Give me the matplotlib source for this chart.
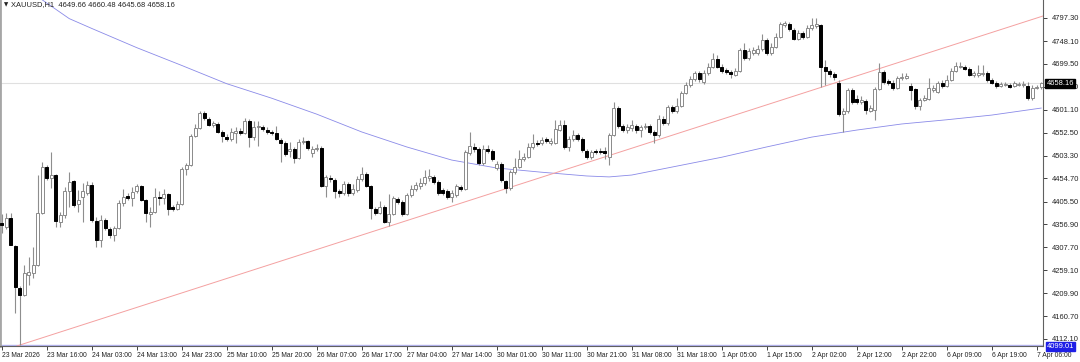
import matplotlib
matplotlib.use("Agg")
import matplotlib.pyplot as plt
from matplotlib.patches import Rectangle

# ---------------- data (XAUUSD H1) ----------------
opens = [4360, 4351, 4370, 4311, 4221, 4206, 4249, 4253, 4270, 4381,
         4479, 4456, 4462, 4362, 4377, 4428, 4449, 4400, 4415, 4424,
         4441, 4364, 4323, 4366, 4347, 4334, 4349, 4402, 4417, 4413,
         4428, 4439, 4409, 4379, 4383, 4415, 4413, 4422, 4394, 4390,
         4400, 4475, 4483, 4545, 4562, 4594, 4582, 4569, 4571, 4554,
         4543, 4539, 4552, 4556, 4552, 4577, 4543, 4565, 4565, 4558,
         4554, 4552, 4537, 4530, 4513, 4518, 4498, 4532, 4535, 4509,
         4518, 4520, 4439, 4456, 4451, 4428, 4424, 4443, 4424, 4430,
         4454, 4464, 4439, 4390, 4381, 4394, 4362, 4379, 4411, 4404,
         4379, 4419, 4432, 4439, 4445, 4456, 4458, 4447, 4430, 4428,
         4415, 4419, 4436, 4432, 4509, 4522, 4518, 4488, 4518, 4513,
         4477, 4486, 4449, 4434, 4468, 4479, 4496, 4501, 4522, 4530,
         4530, 4539, 4530, 4530, 4558, 4569, 4522, 4539, 4548, 4539,
         4513, 4501, 4513, 4513, 4513, 4501, 4548, 4605, 4567, 4558,
         4562, 4567, 4558, 4565, 4567, 4554, 4548, 4582, 4573, 4607,
         4599, 4609, 4637, 4654, 4667, 4680, 4661, 4680, 4693, 4710,
         4693, 4686, 4682, 4676, 4684, 4729, 4712, 4723, 4723, 4731,
         4750, 4723, 4735, 4757, 4782, 4784, 4772, 4752, 4765, 4757,
         4776, 4780, 4782, 4693, 4684, 4678, 4659, 4592, 4599, 4644,
         4624, 4618, 4620, 4599, 4601, 4646, 4682, 4663, 4659, 4648,
         4669, 4669, 4652, 4646, 4609, 4622, 4624, 4644, 4639, 4659,
         4652, 4665, 4684, 4693, 4693, 4688, 4676, 4676, 4678, 4680,
         4665, 4659, 4652, 4654, 4654, 4652, 4654, 4654, 4652, 4627,
         4648, 4649.66]
highs = [4379, 4381, 4381, 4313, 4225, 4270, 4287, 4308, 4462, 4490,
         4483, 4511, 4464, 4383, 4436, 4468, 4451, 4430, 4445, 4449,
         4447, 4372, 4377, 4370, 4351, 4353, 4409, 4432, 4424, 4436,
         4443, 4441, 4411, 4394, 4434, 4428, 4432, 4424, 4398, 4407,
         4479, 4488, 4550, 4571, 4599, 4599, 4586, 4577, 4575, 4558,
         4550, 4562, 4565, 4562, 4584, 4582, 4577, 4577, 4569, 4565,
         4558, 4567, 4541, 4535, 4532, 4522, 4539, 4543, 4537, 4524,
         4528, 4524, 4462, 4462, 4456, 4432, 4449, 4447, 4443, 4460,
         4479, 4468, 4441, 4394, 4407, 4398, 4422, 4417, 4415, 4409,
         4424, 4441, 4447, 4456, 4473, 4475, 4462, 4451, 4434, 4432,
         4430, 4443, 4441, 4515, 4554, 4530, 4522, 4526, 4526, 4518,
         4492, 4490, 4451, 4473, 4498, 4515, 4509, 4530, 4550, 4537,
         4543, 4543, 4541, 4580, 4580, 4580, 4545, 4558, 4552, 4543,
         4518, 4515, 4518, 4520, 4522, 4552, 4618, 4609, 4571, 4571,
         4580, 4571, 4569, 4573, 4571, 4558, 4590, 4588, 4612, 4612,
         4627, 4641, 4661, 4673, 4684, 4684, 4686, 4701, 4723, 4718,
         4699, 4691, 4686, 4691, 4733, 4744, 4733, 4735, 4740, 4763,
         4755, 4744, 4765, 4789, 4791, 4789, 4776, 4772, 4770, 4782,
         4797, 4797, 4784, 4708, 4688, 4682, 4665, 4605, 4648, 4648,
         4633, 4631, 4624, 4612, 4650, 4701, 4686, 4667, 4665, 4673,
         4680, 4680, 4659, 4648, 4627, 4633, 4669, 4654, 4663, 4665,
         4676, 4691, 4703, 4703, 4697, 4693, 4684, 4697, 4697, 4684,
         4669, 4663, 4661, 4661, 4659, 4663, 4661, 4663, 4661, 4654,
         4654, 4660.48]
lows = [4338, 4347, 4313, 4167, 4099.01, 4204, 4227, 4242, 4268, 4379,
        4451, 4434, 4351, 4351, 4370, 4394, 4394, 4383, 4362, 4419,
        4362, 4308, 4308, 4345, 4328, 4321, 4347, 4396, 4409, 4396,
        4424, 4407, 4362, 4351, 4381, 4398, 4400, 4377, 4385, 4387,
        4398, 4462, 4481, 4543, 4560, 4580, 4567, 4565, 4552, 4532,
        4535, 4535, 4530, 4548, 4550, 4522, 4537, 4524, 4556, 4550,
        4548, 4537, 4490, 4503, 4501, 4488, 4496, 4528, 4515, 4501,
        4513, 4436, 4415, 4447, 4413, 4415, 4419, 4417, 4419, 4426,
        4449, 4436, 4368, 4377, 4379, 4360, 4353, 4377, 4400, 4375,
        4377, 4415, 4428, 4432, 4441, 4449, 4443, 4419, 4419, 4411,
        4404, 4415, 4428, 4430, 4505, 4511, 4483, 4483, 4509, 4492,
        4473, 4447, 4424, 4430, 4464, 4477, 4492, 4498, 4518, 4524,
        4526, 4530, 4526, 4528, 4556, 4518, 4513, 4535, 4535, 4511,
        4496, 4496, 4507, 4507, 4496, 4483, 4545, 4562, 4554, 4552,
        4556, 4552, 4543, 4560, 4550, 4530, 4543, 4569, 4569, 4594,
        4594, 4607, 4635, 4650, 4663, 4661, 4656, 4676, 4691, 4691,
        4680, 4678, 4669, 4673, 4682, 4708, 4708, 4718, 4718, 4727,
        4718, 4718, 4733, 4755, 4778, 4770, 4750, 4750, 4752, 4755,
        4772, 4776, 4650, 4654, 4671, 4665, 4588, 4554, 4594, 4614,
        4614, 4614, 4592, 4597, 4580, 4644, 4656, 4654, 4644, 4646,
        4665, 4667, 4622, 4603, 4601, 4620, 4622, 4639, 4637, 4648,
        4650, 4663, 4682, 4691, 4686, 4673, 4671, 4671, 4673, 4661,
        4656, 4648, 4650, 4652, 4648, 4650, 4652, 4650, 4622, 4622,
        4646, 4645.68]
closes = [4355, 4370, 4313, 4223, 4206, 4253, 4255, 4270, 4381, 4479,
          4456, 4462, 4364, 4377, 4428, 4447, 4398, 4409, 4428, 4441,
          4366, 4323, 4366, 4349, 4334, 4349, 4402, 4415, 4413, 4426,
          4439, 4409, 4381, 4383, 4415, 4413, 4422, 4390, 4390, 4400,
          4475, 4483, 4545, 4562, 4594, 4584, 4569, 4573, 4554, 4545,
          4539, 4554, 4556, 4552, 4577, 4543, 4565, 4567, 4560, 4554,
          4552, 4539, 4530, 4507, 4518, 4498, 4532, 4535, 4520, 4518,
          4520, 4439, 4458, 4454, 4428, 4424, 4443, 4424, 4432, 4454,
          4464, 4439, 4392, 4381, 4394, 4362, 4379, 4413, 4404, 4379,
          4419, 4432, 4441, 4445, 4458, 4460, 4447, 4424, 4424, 4415,
          4424, 4439, 4432, 4511, 4524, 4518, 4488, 4518, 4513, 4496,
          4486, 4451, 4434, 4468, 4479, 4496, 4501, 4522, 4530, 4528,
          4537, 4535, 4535, 4560, 4569, 4522, 4539, 4548, 4539, 4515,
          4501, 4511, 4511, 4511, 4509, 4548, 4605, 4567, 4558, 4565,
          4569, 4558, 4565, 4567, 4554, 4548, 4582, 4573, 4607, 4599,
          4609, 4637, 4654, 4667, 4680, 4667, 4680, 4693, 4710, 4693,
          4684, 4682, 4678, 4684, 4729, 4712, 4727, 4729, 4731, 4750,
          4723, 4735, 4757, 4784, 4787, 4774, 4752, 4765, 4757, 4776,
          4782, 4784, 4693, 4684, 4678, 4671, 4592, 4599, 4644, 4618,
          4618, 4622, 4601, 4605, 4646, 4682, 4661, 4659, 4648, 4669,
          4671, 4673, 4644, 4609, 4622, 4627, 4648, 4648, 4659, 4652,
          4665, 4684, 4695, 4695, 4688, 4676, 4680, 4680, 4680, 4665,
          4659, 4652, 4656, 4656, 4650, 4659, 4656, 4656, 4627, 4648,
          4650, 4658.16]

time_labels = ["23 Mar 2026", "23 Mar 16:00", "24 Mar 03:00", "24 Mar 13:00",
               "24 Mar 23:00", "25 Mar 10:00", "25 Mar 20:00", "26 Mar 07:00",
               "26 Mar 17:00", "27 Mar 04:00", "27 Mar 14:00", "30 Mar 01:00",
               "30 Mar 11:00", "30 Mar 21:00", "31 Mar 08:00", "31 Mar 18:00",
               "1 Apr 05:00", "1 Apr 15:00", "2 Apr 02:00", "2 Apr 12:00",
               "2 Apr 22:00", "6 Apr 09:00", "6 Apr 19:00", "7 Apr 06:00"]
price_ticks = [4797.30, 4748.10, 4699.50, 4650.30, 4601.10, 4552.50, 4503.30,
               4454.70, 4405.50, 4356.90, 4307.70, 4259.10, 4209.90, 4160.70,
               4112.10]

ma_index = [0, 5, 9, 15, 20, 30, 40, 50, 60, 70, 80, 90, 100, 110, 120,
            130, 135, 140, 150, 160, 170, 180, 190, 200, 210, 220, 231]
ma_values = [4895, 4863, 4836, 4796, 4775, 4734, 4696, 4657, 4626, 4592, 4554,
             4522, 4494, 4477, 4468, 4460, 4458, 4462, 4481, 4500, 4522, 4543,
             4558, 4571, 4580, 4590, 4605]

trend_index = [4, 231]
trend_price = [4099.01, 4800.3]

bid_price = 4658.16
low_price = 4099.01
header = "XAUUSD,H1  4649.66 4660.48 4645.68 4658.16"

# ---------------- figure ----------------
plt.rcParams['font.family'] = ['Liberation Sans Narrow', 'Liberation Sans', 'DejaVu Sans']
W, H = 1080, 362
fig = plt.figure(figsize=(W / 100, H / 100), dpi=100)
fig.patch.set_facecolor("white")
ax = fig.add_axes([0.0, 16 / H, 1043 / W, 346 / H])
ax.set_facecolor("white")
ax.set_xlim(-0.38, 231.4)
ax.set_ylim(4097.0, 4835.7)

# levels and indicators
ax.axhline(bid_price, color="#e0e0e0", lw=0.8, zorder=1)
ax.axhline(low_price, color="#b4b4f0", lw=1.0, zorder=1)
ax.plot(ma_index, ma_values, color="#8a8ae8", lw=0.6, zorder=1)
ax.axline((trend_index[0], trend_price[0]), (trend_index[1], trend_price[1]),
          color="#f4a0a0", lw=0.7, zorder=1)

# candles
bw = 0.62
for i, (o, h, l, c) in enumerate(zip(opens, highs, lows, closes)):
    ax.plot([i, i], [l, h], color="#8e8e8e", lw=0.8, zorder=2,
            solid_capstyle="butt")
    bottom = min(o, c)
    height = max(abs(c - o), 0.8)
    if c >= o:
        rect = Rectangle((i - bw / 2, bottom), bw, height, facecolor="white",
                         edgecolor="#8a8a8a", lw=0.7, zorder=3)
    else:
        rect = Rectangle((i - bw / 2, bottom), bw, height, facecolor="black",
                         edgecolor="black", lw=0.7, zorder=3)
    ax.add_patch(rect)

# axes styling
ax.spines["top"].set_visible(False)
ax.spines["left"].set_color("#a6a6a6")
ax.spines["left"].set_linewidth(2.0)
ax.spines["right"].set_color("#606060")
ax.spines["right"].set_linewidth(0.8)
ax.spines["bottom"].set_color("#606060")
ax.spines["bottom"].set_linewidth(0.8)

ax.yaxis.tick_right()
ax.set_yticks(price_ticks)
ax.set_yticklabels([f"{p:.2f}" for p in price_ticks])
ax.tick_params(axis="y", direction="out", length=3, width=0.6, pad=3,
               labelsize=5.4, colors="#222222", left=False)
ax.set_xticks(list(range(0, 10 * len(time_labels), 10)))
ax.set_xticklabels(time_labels, ha="left")
ax.tick_params(axis="x", direction="out", length=3, width=0.6, pad=1.5,
               labelsize=4.9, colors="#222222")

# price boxes on the right scale
ax.annotate(f"{bid_price:.2f}", xy=(1.0, bid_price),
            xycoords=("axes fraction", "data"), xytext=(2.5, 0),
            textcoords="offset points", ha="left", va="center",
            fontsize=5.4, color="white", zorder=20, annotation_clip=False,
            bbox=dict(boxstyle="square,pad=0.15", fc="black", ec="black"))
ax.annotate(f"{low_price:.2f}", xy=(1.0, low_price),
            xycoords=("axes fraction", "data"), xytext=(2.5, -1.2),
            textcoords="offset points", ha="left", va="center",
            fontsize=5.4, color="white", zorder=20, annotation_clip=False,
            bbox=dict(boxstyle="square,pad=0.12", fc="#1e1ee6", ec="#1e1ee6"))

# header
ax.text(0.0035, 0.986, "\u25BC", transform=ax.transAxes, fontsize=4,
        va="center", ha="left", color="#222222", family="DejaVu Sans")
ax.text(0.0105, 0.986, header, transform=ax.transAxes, fontsize=5.4,
        va="center", ha="left", color="#222222")

fig.savefig("out.png", dpi=100)
